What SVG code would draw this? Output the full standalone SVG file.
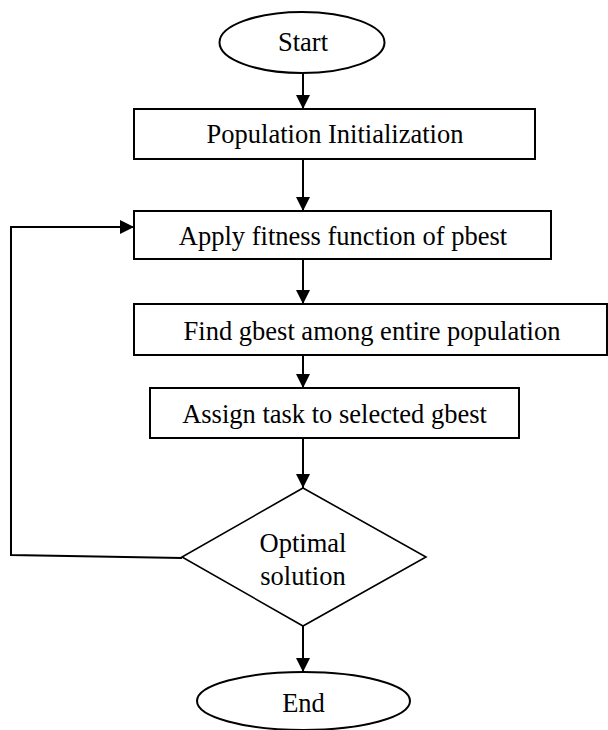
<svg xmlns="http://www.w3.org/2000/svg" width="608" height="730" viewBox="0 0 608 730">
<defs>
<style>
.shape{fill:#fff;stroke:#000;stroke-width:2}
.dia{fill:#fff;stroke:#000;stroke-width:1.6}
.lbl{font-family:"Liberation Serif","Times New Roman",serif;font-size:26.5px;fill:#000;text-anchor:middle}
.conn{fill:none;stroke:#000;stroke-width:2}
</style>
<marker id="ah" markerUnits="userSpaceOnUse" markerWidth="16" markerHeight="16" viewBox="0 0 16 16" refX="15" refY="8" orient="auto">
<path d="M1,1 L15,8 L1,15 Z" fill="#000"/>
</marker>
</defs>
<rect width="608" height="730" fill="#fff"/>
<g id="connectors">
<line class="conn" x1="303" y1="73" x2="303" y2="109" marker-end="url(#ah)"/>
<line class="conn" x1="303" y1="159" x2="303" y2="211" marker-end="url(#ah)"/>
<line class="conn" x1="303" y1="259" x2="303" y2="304" marker-end="url(#ah)"/>
<line class="conn" x1="303" y1="355" x2="303" y2="388" marker-end="url(#ah)"/>
<line class="conn" x1="303" y1="438" x2="303" y2="488" marker-end="url(#ah)"/>
<line class="conn" x1="303" y1="626" x2="303" y2="672" marker-end="url(#ah)"/>
<polyline class="conn" points="182,558 11,555 11,227 134,227" marker-end="url(#ah)"/>
</g>
<g id="start">
<ellipse class="shape" cx="302" cy="42.5" rx="82.5" ry="30.5"/>
<text class="lbl" x="303" y="51">Start</text>
</g>
<g id="init">
<rect class="shape" x="134" y="109" width="401" height="50"/>
<text class="lbl" x="335" y="143">Population Initialization</text>
</g>
<g id="fitness">
<rect class="shape" x="134" y="211" width="417" height="48"/>
<text class="lbl" x="343" y="245">Apply fitness function of pbest</text>
</g>
<g id="gbest">
<rect class="shape" x="134" y="304" width="473" height="51"/>
<text class="lbl" x="372" y="340">Find gbest among entire population</text>
</g>
<g id="assign">
<rect class="shape" x="150" y="388" width="369" height="50"/>
<text class="lbl" x="334.5" y="423">Assign task to selected gbest</text>
</g>
<g id="optimal">
<polygon class="dia" points="303,488 426,557 303,626 182,557"/>
<text class="lbl" x="303" y="552">Optimal</text>
<text class="lbl" x="303" y="585">solution</text>
</g>
<g id="end">
<ellipse class="shape" cx="303.5" cy="701" rx="106.5" ry="29"/>
<text class="lbl" x="303.5" y="712">End</text>
</g>
</svg>
